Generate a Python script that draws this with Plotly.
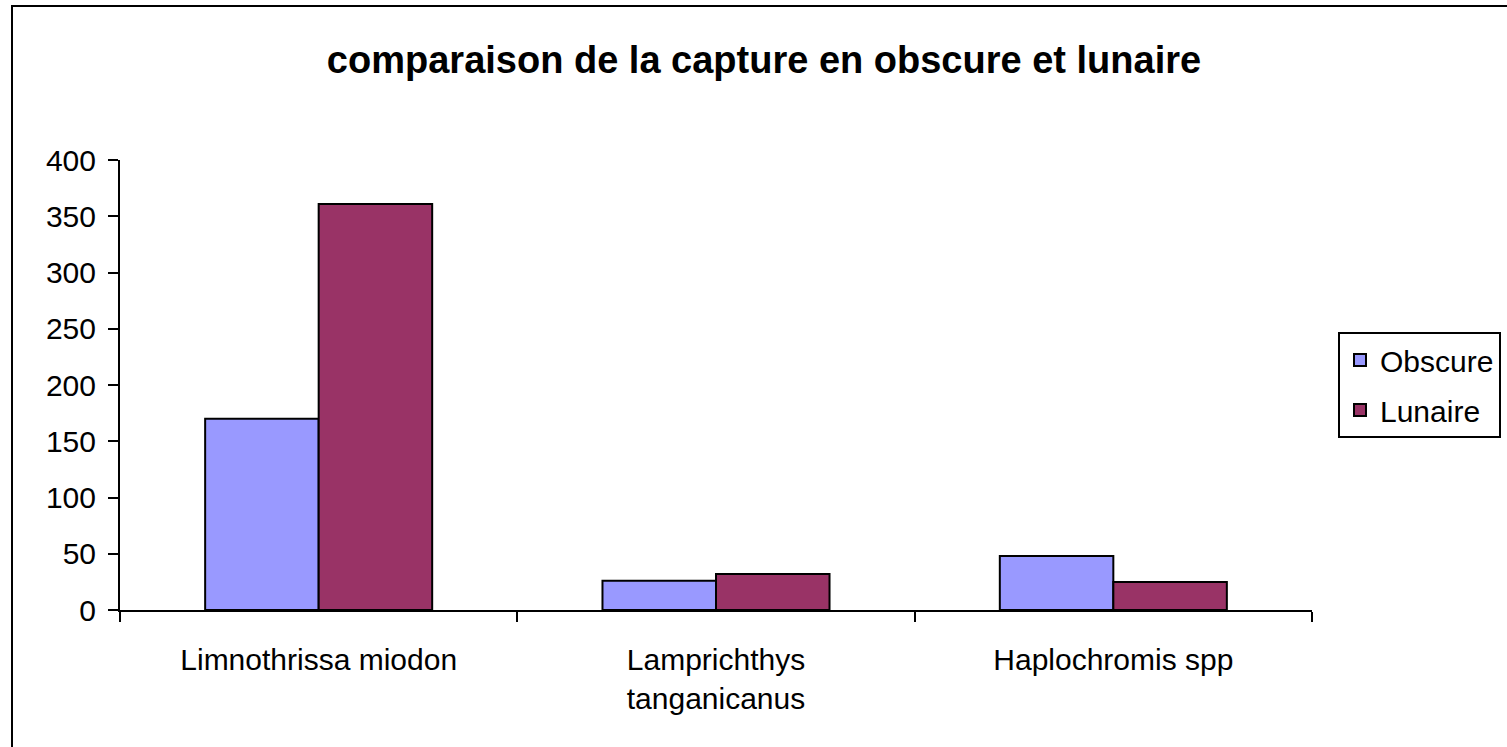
import plotly.graph_objects as go

# Catch per species, dark night vs moonlit night
species = ["Limnothrissa miodon", "Lamprichthys<br>tanganicanus", "Haplochromis spp"]
obscure = [170, 26, 48]
lunaire = [361, 32, 25]

W, H = 1507, 747
L, R, T, B = 120, 195, 160, 137
pw, ph = W - L - R, H - T - B


def px_x(x):
    return (x - L) / pw


def px_y(y):
    return (H - B - y) / ph


fig = go.Figure()
fig.add_trace(go.Bar(
    name="Obscure", x=species, y=obscure, legendgroup="obscure",
    marker=dict(color="#9999FF", line=dict(color="black", width=2)),
))
fig.add_trace(go.Bar(
    name="Lunaire", x=species, y=lunaire, legendgroup="lunaire",
    marker=dict(color="#993366", line=dict(color="black", width=2)),
))

# outer chart-area frame, cut off on the right and bottom like the original
fig.add_shape(
    type="rect", xref="paper", yref="paper",
    x0=px_x(12), x1=px_x(1540), y0=px_y(780), y1=px_y(6),
    line=dict(color="black", width=2), fillcolor="rgba(0,0,0,0)", layer="below",
)

fig.update_layout(
    width=W, height=H,
    margin=dict(l=L, r=R, t=T, b=B, autoexpand=False),
    paper_bgcolor="white", plot_bgcolor="white",
    barmode="group", bargap=0.4286, bargroupgap=0,
    font=dict(family="Liberation Sans, Arial, sans-serif", size=30, color="black"),
    title=dict(
        text="<b>comparaison de la capture en obscure et lunaire</b>",
        font=dict(size=38, color="black"),
        x=px_x(764), xref="paper", xanchor="center",
        y=(H - 60) / H, yanchor="middle",
    ),
    legend=dict(
        x=px_x(1338), y=px_y(332), xref="paper", yref="paper",
        xanchor="left", yanchor="top",
        bordercolor="black", borderwidth=2, bgcolor="white",
        font=dict(size=30), tracegroupgap=8,
    ),
    showlegend=True,
)

fig.update_xaxes(
    showline=True, linecolor="black", linewidth=2,
    ticks="outside", tickson="boundaries", ticklen=10, tickwidth=2, tickcolor="black",
    showgrid=False, ticklabelstandoff=22,
)
fig.update_yaxes(
    range=[0, 400], dtick=50,
    showline=True, linecolor="black", linewidth=2,
    ticks="outside", ticklen=10, tickwidth=2, tickcolor="black",
    showgrid=False, zeroline=False, ticklabelstandoff=6,
)

# drop the default page margin so the chart sits at the top-left corner
fig.write_html(
    "out.html",
    config={"displayModeBar": False},
    post_script="document.body.style.margin='0px';",
)
